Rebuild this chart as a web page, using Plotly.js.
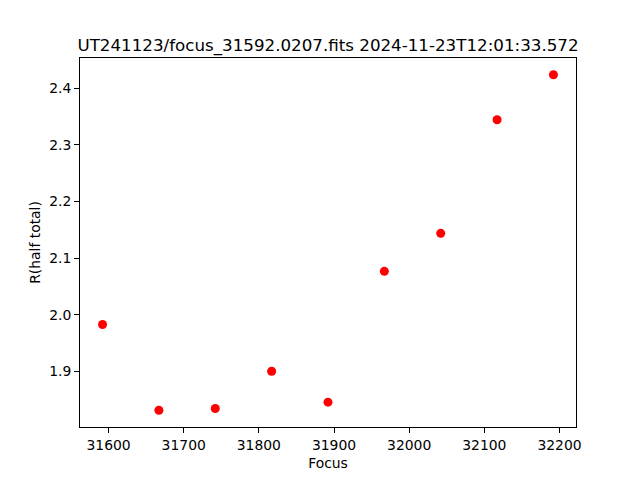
<!DOCTYPE html>
<html>
<head>
<meta charset="utf-8">
<script src="https://cdn.plot.ly/plotly-3.0.1.min.js"></script>
<style>html,body{margin:0;padding:0;background:#fff;}#chart{width:640px;height:480px;}</style>
</head>
<body>
<div id="chart"></div>
<script>
const focus = [31592, 31667, 31742, 31817, 31892, 31967, 32042, 32117, 32192];
const rHalfTotal = [1.9825, 1.8312, 1.8343, 1.9000, 1.8454, 2.0765, 2.1436, 2.3442, 2.4236];
const xTickVals = [31600, 31700, 31800, 31900, 32000, 32100, 32200];
const yTickVals = [1.9, 2.0, 2.1, 2.2, 2.3, 2.4];
const chartTitle = "UT241123/focus_31592.0207.fits 2024-11-23T12:01:33.572";
const xLabel = "Focus";
const yLabel = "R(half total)";

function padRange(arr, frac) {
  const mn = Math.min(...arr), mx = Math.max(...arr);
  const d = mx - mn;
  return [mn - frac * d, mx + frac * d];
}

const font = {family: "DejaVu Sans, sans-serif", size: 13.9, color: "#000"};

const trace = {
  x: focus,
  y: rHalfTotal,
  type: "scatter",
  mode: "markers",
  marker: {color: "#ff0000", size: 9, line: {width: 0}},
  hoverinfo: "none"
};

const axisCommon = {
  showline: true,
  linecolor: "#000",
  linewidth: 1,
  mirror: true,
  ticks: "outside",
  ticklen: 5,
  tickwidth: 1,
  tickcolor: "#000",
  showgrid: false,
  zeroline: false,
  tickfont: font
};

const layout = {
  width: 640,
  height: 480,
  paper_bgcolor: "#fff",
  plot_bgcolor: "#fff",
  showlegend: false,
  margin: {l: 80, r: 64, t: 58, b: 53, pad: 0},
  font: font,
  title: {
    text: chartTitle,
    font: {family: "DejaVu Sans, sans-serif", size: 16.7, color: "#000"},
    x: 0.5, xref: "paper", xanchor: "center",
    y: 1, yref: "paper", yanchor: "bottom",
    pad: {b: 7}
  },
  xaxis: Object.assign({}, axisCommon, {
    range: padRange(focus, 0.05),
    tickvals: xTickVals,
    tickformat: "d",
    title: {text: xLabel, font: font, standoff: 6}
  }),
  yaxis: Object.assign({}, axisCommon, {
    range: padRange(rHalfTotal, 0.05),
    tickvals: yTickVals,
    tickformat: ".1f",
    title: {text: yLabel, font: font, standoff: 5}
  })
};

Plotly.newPlot("chart", [trace], layout, {staticPlot: true, displayModeBar: false});
</script>
</body>
</html>
